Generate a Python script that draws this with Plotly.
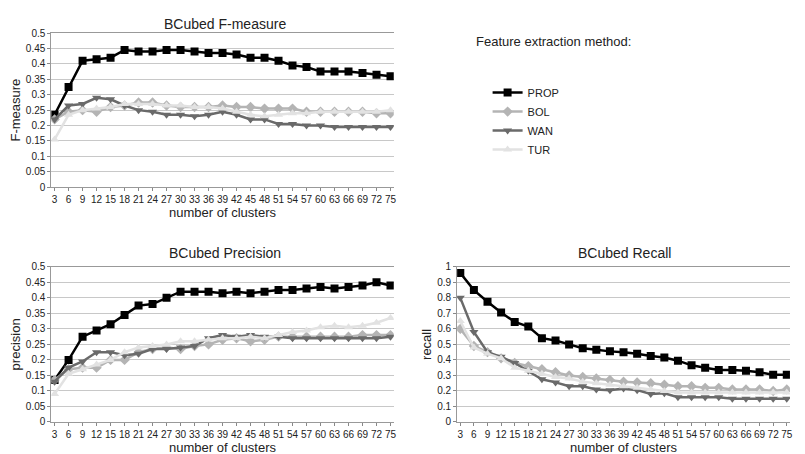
import plotly.graph_objects as go

clusters = list(range(3, 76, 3))
names = ['PROP', 'BOL', 'WAN', 'TUR']

fmeasure = {
    'PROP': [.235, .325, .41, .415, .42, .445, .44, .44, .445, .445, .44, .435, .435, .43, .42, .42, .41, .395, .39, .375, .375, .375, .37, .365, .36],
    'BOL': [.22, .245, .25, .245, .26, .265, .275, .275, .265, .26, .26, .26, .265, .26, .26, .255, .255, .255, .245, .245, .245, .245, .245, .24, .24],
    'WAN': [.22, .265, .27, .29, .285, .265, .25, .245, .235, .235, .23, .235, .245, .235, .22, .22, .205, .205, .2, .2, .195, .195, .195, .195, .195],
    'TUR': [.155, .235, .25, .255, .26, .27, .27, .27, .265, .265, .26, .26, .255, .245, .235, .23, .235, .24, .24, .245, .245, .245, .245, .245, .25],
}
precision = {
    'PROP': [.135, .2, .275, .295, .315, .345, .375, .38, .4, .42, .42, .42, .415, .42, .415, .42, .425, .425, .43, .435, .43, .435, .44, .45, .44],
    'BOL': [.135, .17, .175, .175, .2, .2, .225, .235, .24, .235, .245, .25, .265, .27, .26, .265, .275, .275, .275, .275, .275, .275, .28, .28, .28],
    'WAN': [.13, .175, .195, .225, .225, .215, .22, .235, .235, .24, .245, .27, .28, .275, .28, .275, .275, .27, .27, .27, .27, .27, .27, .27, .275],
    'TUR': [.09, .155, .17, .185, .2, .225, .24, .245, .25, .26, .26, .265, .27, .27, .275, .27, .28, .29, .295, .305, .31, .305, .31, .32, .335],
}
recall = {
    'PROP': [.96, .85, .775, .705, .645, .615, .54, .525, .5, .475, .465, .455, .45, .44, .425, .415, .395, .365, .35, .335, .335, .33, .32, .305, .305],
    'BOL': [.6, .49, .45, .41, .38, .36, .34, .32, .3, .29, .28, .27, .26, .255, .25, .24, .23, .23, .22, .22, .21, .21, .21, .2, .21],
    'WAN': [.8, .58, .45, .42, .38, .33, .275, .255, .23, .23, .21, .205, .215, .205, .18, .185, .16, .16, .16, .16, .15, .15, .15, .15, .15],
    'TUR': [.65, .48, .44, .41, .35, .33, .31, .29, .28, .26, .25, .24, .23, .22, .21, .2, .19, .19, .19, .19, .19, .19, .19, .19, .19],
}

colors = {'PROP': '#000000', 'BOL': '#b4b4b4', 'WAN': '#6a6a6a', 'TUR': '#e2e2e2'}
symbols = {'PROP': 'square', 'BOL': 'diamond', 'WAN': 'triangle-down', 'TUR': 'triangle-up'}

fig = go.Figure()
panels = [(fmeasure, 'x', 'y'), (precision, 'x2', 'y2'), (recall, 'x3', 'y3')]
for p, (data, xa, ya) in enumerate(panels):
    for n in names:
        fig.add_trace(go.Scatter(
            x=clusters, y=data[n], xaxis=xa, yaxis=ya, name=n, mode='lines+markers',
            line=dict(color=colors[n], width=2.5),
            marker=dict(symbol=symbols[n], size=8, color=colors[n]),
            showlegend=(p == 0)))

font = dict(family='Liberation Sans, Arial', color='#222', size=10)
xcommon = dict(range=[2.3, 75.7], tickvals=clusters, showgrid=False, ticks='outside',
               ticklen=3, tickcolor='#888', showline=True, linecolor='#999', mirror=True,
               tickfont=dict(size=10), zeroline=False,
               title=dict(text='number of clusters', font=dict(size=13), standoff=1))
ycommon = dict(showgrid=True, gridcolor='#c8c8c8', showline=True, linecolor='#999',
               ticks='outside', ticklen=3, tickcolor='#888', zeroline=False,
               tickfont=dict(size=10))

fig.update_layout(
    width=805, height=454, margin=dict(l=0, r=0, t=0, b=0),
    plot_bgcolor='white', paper_bgcolor='white', font=font,
    xaxis=dict(domain=[0.054, 0.481], anchor='y', **xcommon),
    yaxis=dict(domain=[0.608, 0.957], anchor='x', range=[0, 0.5], dtick=0.05,
               title=dict(text='F-measure', font=dict(size=13), standoff=2), **ycommon),
    xaxis2=dict(domain=[0.054, 0.481], anchor='y2', **xcommon),
    yaxis2=dict(domain=[0.077, 0.428], anchor='x2', range=[0, 0.5], dtick=0.05,
                title=dict(text='precision', font=dict(size=13), standoff=2), **ycommon),
    xaxis3=dict(domain=[0.56, 0.975], anchor='y3', **xcommon),
    yaxis3=dict(domain=[0.077, 0.428], anchor='x3', range=[0, 1], dtick=0.1,
                title=dict(text='recall', font=dict(size=13), standoff=2), **ycommon),
    legend=dict(x=0.598, y=0.855, xanchor='left', yanchor='top', font=dict(size=11),
                bgcolor='rgba(0,0,0,0)', itemwidth=30, tracegroupgap=0),
    annotations=[
        dict(text='BCubed F-measure', x=0.27, y=1.0, xref='paper', yref='paper',
             xanchor='center', yanchor='top', showarrow=False, font=dict(size=14)),
        dict(text='BCubed Precision', x=0.27, y=0.46, xref='paper', yref='paper',
             xanchor='center', yanchor='middle', showarrow=False, font=dict(size=14)),
        dict(text='BCubed Recall', x=0.769, y=0.46, xref='paper', yref='paper',
             xanchor='center', yanchor='middle', showarrow=False, font=dict(size=14)),
        dict(text='Feature extraction method:', x=0.68, y=0.938, xref='paper', yref='paper',
             xanchor='center', yanchor='middle', showarrow=False, font=dict(size=13)),
    ],
)

fig.write_html('out.html')
